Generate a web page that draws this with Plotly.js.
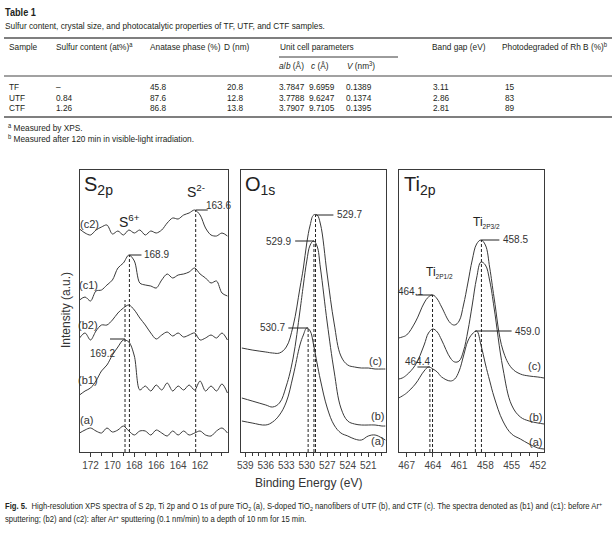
<!DOCTYPE html>
<html>
<head>
<meta charset="utf-8">
<script src="https://cdn.plot.ly/plotly-3.0.1.min.js"></script>
<style>
html,body{margin:0;padding:0;background:#fff;}
#wrap{position:relative;width:616px;height:543px;overflow:hidden;}
#chart{position:absolute;left:0;top:0;width:616px;height:543px;}
#overlay{position:absolute;left:0;top:0;width:616px;height:543px;pointer-events:none;}
.t{position:absolute;white-space:nowrap;font-family:"Liberation Sans",Arial,sans-serif;font-size:9.5px;color:#231f20;line-height:1.1;transform-origin:0 50%;}
.t sup{font-size:70%;vertical-align:baseline;position:relative;top:-0.45em;}
.t sub{font-size:70%;vertical-align:baseline;position:relative;top:0.3em;}
.cap{font-size:8.8px;}
</style>
</head>
<body>
<div id="wrap">
<div id="chart"></div>
<div id="overlay"></div>
</div>
<script>
// ---------------- Table data ----------------
const tableTitle = 'Table 1';
const tableSubtitle = 'Sulfur content, crystal size, and photocatalytic properties of TF, UTF, and CTF samples.';
const tableHeaders = ['Sample','Sulfur content (at%)<sup>a</sup>','Anatase phase (%)','D (nm)','Unit cell parameters','Band gap (eV)','Photodegraded of Rh B (%)<sup>b</sup>'];
const subHeaders = ['<i>a</i>/<i>b</i> (Å)','<i>c</i> (Å)','<i>V</i> (nm<sup>3</sup>)'];
const samples = ['TF','UTF','CTF'];
const sulfur = ['–','0.84','1.26'];
const anatase = ['45.8','87.6','86.8'];
const crystalD = ['20.8','12.8','13.8'];
const cellAB = ['3.7847','3.7788','3.7907'];
const cellC = ['9.6959','9.6247','9.7105'];
const cellV = ['0.1389','0.1374','0.1395'];
const bandGap = ['3.11','2.86','2.81'];
const photodeg = ['15','83','89'];
const footnotes = ['<sup>a</sup> Measured by XPS.','<sup>b</sup> Measured after 120 min in visible-light irradiation.'];
const captionLines = ['<b>Fig. 5.</b>&nbsp; High-resolution XPS spectra of S 2p, Ti 2p and O 1s of pure TiO<sub>2</sub> (a), S-doped TiO<sub>2</sub> nanofibers of UTF (b), and CTF (c). The spectra denoted as (b1) and (c1): before Ar<sup>+</sup>',
  'sputtering; (b2) and (c2): after Ar<sup>+</sup> sputtering (0.1 nm/min) to a depth of 10 nm for 15 min.'];

// ---------------- S 2p spectra ----------------
const s2pE = [173,172.5,172,171.5,171,170.5,170,169.5,169,168.5,168,167.5,167,166.5,166,165.5,165,164.5,164,163.5,163,162.5,162,161.5,161,160.5,160,159.5];
const s2pC2 = [223,219,217,222,225,227,218,221,217,222,219,222,217,221,219,222,229,234,233,237,239,242,237,224,217,216,219,216];
const s2pC1 = [152,155,151,161,162,167,172,184,189,197,191,169,167,166,164,172,178,174,177,178,180,184,178,174,169,171,159,156];
const s2pB2 = [114,119,112,121,127,127,132,139,144,147,142,134,127,119,113,117,120,116,119,115,117,119,112,114,117,114,119,112];
const s2pB1 = [57,61,64,71,81,87,97,105,112,110,96,62,66,61,67,62,69,61,66,62,67,62,71,61,66,61,68,59];
const s2pA  = [19,22,24,21,19,24,20,22,26,21,17,21,21,17,22,19,16,21,17,21,17,19,21,17,16,21,24,19];
const s2pTicks = [172,170,168,166,164,162];
const s2pNames = ['(c2)','(c1)','(b2)','(b1)','(a)'];
const s2pNameE = [172.1,172.2,172.2,172.25,172.35];
const s2pNameI = [228,167,127,72,32];
const s2pDashE = [168.85,168.45,162.4];
const s2pDashTop = [152,197,242];
const s2pPeakText = ['169.2','168.9','163.6'];
const s2pPeakLine = [[170.22,168.85,113],[168.45,167.35,197],[162.4,161.3,242]];
const s2pPeakTextPos = [[170.9,99],[167.3,198],[161.6,247]];
const s2pPeakAnchor = ['center','left','left'];

// ---------------- O 1s spectra ----------------
const o1sE = [539.5,538,536,535,534,533,532,531,530.5,530,529.5,529,528.5,528,527,526,525,524,523,522,521,520,519,518.5];
const o1sC = [104,102,100,99,99,105,126,164,184,209,227,237,237,228,177,129,96,87,85,84,84,83,83,83];
const o1sB = [54,51,47,45,49,66,94,141,167,191,207,211,206,184,129,81,44,31,28,27,27,27,26,26];
const o1sA = [31,29,27,30,37,50,76,107,117,124,121,107,89,72,44,27,19,16,13,12,16,17,14,12];
const o1sTicks = [539,536,533,530,527,524,521];
const o1sNames = ['(c)','(b)','(a)'];
const o1sNameE = [519.9,519.6,519.6];
const o1sNameI = [91,36,11];
const o1sDashE = [529.8,528.95,528.72];
const o1sDashTop = [124,211,237];
const o1sPeakText = ['530.7','529.9','529.7'];
const o1sPeakLine = [[532.7,529.8,124],[531.7,528.95,211],[528.72,526.1,237]];
const o1sPeakTextPos = [[532.96,125],[531.97,211],[525.9,238]];
const o1sPeakAnchor = ['right','right','left'];

// ---------------- Ti 2p spectra ----------------
const tiE = [467.9,467.5,467,466,465,464.5,464,463.5,463,462,461.5,461,460.5,460,459.5,459,458.5,458,457.5,457,456,455,454,453,452,451.3];
const tiC = [114,115,117,130,149,155,157,153,145,129,127,131,147,169,192,208,212,207,184,154,102,84,78,76,75,74];
const tiB = [73,74,77,87,107,119,123,120,112,94,90,91,101,121,147,174,190,187,171,144,84,47,35,31,29,28];
const tiA = [54,56,59,68,81,85,83,80,75,71,73,81,96,111,118,121,107,88,71,55,31,18,13,8,4,3];
const tiTicks = [467,464,461,458,455,452];
const tiNames = ['(c)','(b)','(a)'];
const tiNameE = [452.4,452.3,452.3];
const tiNameI = [86,35,10];
const tiDashE = [464.34,464.04,459.14,458.45];
const tiDashTop = [85,157,121,212];
const tiPeakText = ['464.4','464.1','459.0','458.5'];
const tiPeakLine = [[465.76,464.34,85],[465.95,464.04,157],[459.14,455.0,121],[458.45,456.4,212]];
const tiPeakTextPos = [[465.7,91],[466.5,161],[454.8,121],[456.2,213]];
const tiPeakAnchor = ['center','center','left','left'];

// ---------------- Layout helpers ----------------
const W = 616, H = 543;
const PX = x => x / W;
const PY = y => 1 - y / H;
const figFont = {family:'"Liberation Sans",Arial,sans-serif', size:10, color:'#333'};
const curveColor = '#3a3a3a';
const annotations = [];
const shapes = [];

function paperText(text, px, py, font, xanchor, extra) {
  annotations.push(Object.assign({text:text, xref:'paper', yref:'paper', x:PX(px), y:PY(py),
    xanchor:xanchor || 'left', yanchor:'middle', showarrow:false, font:font}, extra || {}));
}
function dataText(text, ax, x, y, font, xanchor) {
  annotations.push({text:text, xref:'x'+ax, yref:'y'+ax, x:x, y:y, xanchor:xanchor || 'center',
    yanchor:'middle', showarrow:false, font:font});
}
function paperLine(x0, y0, x1, y1, w, c) {
  shapes.push({type:'line', xref:'paper', yref:'paper', x0:PX(x0), x1:PX(x1), y0:PY(y0), y1:PY(y1),
    line:{color:c || '#333', width:w}});
}

// ---------------- Table rules ----------------
paperLine(4, 38, 612, 38, 1.6, '#555');
paperLine(279, 57, 398, 57, 0.9, '#222');
paperLine(4, 76, 612, 76, 1.2, '#444');
paperLine(4, 117, 612, 117, 1.6, '#555');

// ---------------- Traces ----------------
const traces = [];
function addCurves(xs, series, ax, smooth) {
  series.forEach(ys => traces.push({type:'scatter', mode:'lines', x:xs, y:ys, xaxis:'x'+ax, yaxis:'y'+ax,
    line:{color:curveColor, width:1, shape:'spline', smoothing:smooth}, hoverinfo:'skip'}));
}
addCurves(s2pE, [s2pC2, s2pC1, s2pB2, s2pB1, s2pA], '', 0.9);
addCurves(o1sE, [o1sC, o1sB, o1sA], '2', 1.1);
addCurves(tiE, [tiC, tiB, tiA], '3', 1.1);

function panelMarks(ax, dashE, dashTop, peakLine, peakText, peakPos, peakAnchor, names, nameE, nameI) {
  const xr = 'x' + ax, yr = 'y' + ax;
  dashE.forEach((e, i) => shapes.push({type:'line', xref:xr, yref:yr, x0:e, x1:e, y0:0, y1:dashTop[i],
    line:{color:'#222', width:1, dash:'3px,2px'}}));
  peakLine.forEach(p => shapes.push({type:'line', xref:xr, yref:yr, x0:p[0], x1:p[1], y0:p[2], y1:p[2],
    line:{color:'#222', width:1}}));
  peakText.forEach((t, i) => dataText(t, ax, peakPos[i][0], peakPos[i][1], figFont, peakAnchor[i]));
  names.forEach((n, i) => dataText(n, ax, nameE[i], nameI[i], Object.assign({}, figFont, {size:11}), 'center'));
}
panelMarks('', s2pDashE, s2pDashTop, s2pPeakLine, s2pPeakText, s2pPeakTextPos, s2pPeakAnchor, s2pNames, s2pNameE, s2pNameI);
panelMarks('2', o1sDashE, o1sDashTop, o1sPeakLine, o1sPeakText, o1sPeakTextPos, o1sPeakAnchor, o1sNames, o1sNameE, o1sNameI);
panelMarks('3', tiDashE, tiDashTop, tiPeakLine, tiPeakText, tiPeakTextPos, tiPeakAnchor, tiNames, tiNameE, tiNameI);

// Panel titles and species labels
const bigFont = {family:'"Liberation Sans",Arial,sans-serif', size:20, color:'#222'};
const midFont = {family:'"Liberation Sans",Arial,sans-serif', size:14, color:'#222'};
const tiFont = {family:'"Liberation Sans",Arial,sans-serif', size:12, color:'#222'};
dataText('S<sub>2p</sub>', '', 172.8, 267, bigFont, 'left');
dataText('O<sub>1s</sub>', '2', 539.3, 267, bigFont, 'left');
dataText('Ti<sub>2p</sub>', '3', 467.5, 267, bigFont, 'left');
dataText('S<sup>6+</sup>', '', 168.4, 231, midFont, 'center');
dataText('S<sup>2-</sup>', '', 162.4, 261, midFont, 'center');
dataText('Ti<sub><span style="font-size:6.5px">2P3/2</span></sub>', '3', 459.6, 230, tiFont, 'left');
dataText('Ti<sub><span style="font-size:6.5px">2P1/2</span></sub>', '3', 465.0, 180, tiFont, 'left');

// Axis titles
paperText('Intensity (a.u.)', 66, 310, Object.assign({}, figFont, {size:12}), 'center', {textangle:-90});
paperText('Binding Energy (eV)', 308, 483, Object.assign({}, figFont, {size:12}), 'center');

// ---------------- Axes ----------------
const yDom = [PY(452), PY(170)];
function xAxis(dom, range, ticks, anchor) {
  return {domain:dom, range:range, autorange:false, tickmode:'array', tickvals:ticks, ticktext:ticks.map(String), anchor:anchor,
    showline:true, mirror:true, linecolor:'#3a3a3a', linewidth:1, zeroline:false, showgrid:false,
    ticks:'outside', ticklen:4, tickwidth:1, tickcolor:'#3a3a3a',
    tickfont:{family:'"Liberation Sans",Arial,sans-serif', size:10, color:'#444'},
    minor:{ticks:'outside', ticklen:2.5, dtick:1, tick0:0, tickcolor:'#3a3a3a', showgrid:false}};
}
function yAxis(anchor) {
  return {domain:yDom, range:[0,282], autorange:false, anchor:anchor, showline:true, mirror:true,
    linecolor:'#3a3a3a', linewidth:1, zeroline:false, showgrid:false, showticklabels:false, ticks:''};
}
const layout = {
  width:W, height:H, margin:{l:0, r:0, t:0, b:0}, paper_bgcolor:'#fff', plot_bgcolor:'#fff',
  showlegend:false,
  xaxis: xAxis([PX(80), PX(228)], [172.96, 159.45], s2pTicks, 'y'),
  xaxis2: xAxis([PX(241), PX(386)], [539.63, 518.4], o1sTicks, 'y2'),
  xaxis3: xAxis([PX(399), PX(544)], [467.87, 451.3], tiTicks, 'y3'),
  yaxis: yAxis('x'), yaxis2: yAxis('x2'), yaxis3: yAxis('x3'),
  annotations: annotations, shapes: shapes
};
Plotly.newPlot('chart', traces, layout, {displayModeBar:false, staticPlot:true});

// ---------------- HTML text for table & caption (condensed) ----------------
const overlay = document.getElementById('overlay');
const textEls = [];
function htmlText(html, x, y, cls) {
  const d = document.createElement('div');
  d.className = 't' + (cls ? ' ' + cls : '');
  d.innerHTML = html;
  d.style.left = x + 'px';
  d.style.top = y + 'px';
  overlay.appendChild(d);
  textEls.push(d);
  return d;
}
const titleEl = htmlText('<b>' + tableTitle + '</b>', 5, 13);
titleEl.style.fontSize = '10.5px';
const subEl = htmlText(tableSubtitle, 5, 26);
const headX = [9, 56, 150, 224, 280, 432, 502];
tableHeaders.forEach((h, i) => htmlText(h, headX[i], 47));
const subX = [279, 311, 347];
subHeaders.forEach((h, i) => htmlText(h, subX[i], 66));
const colX = [9, 56, 150, 227, 279, 309, 346, 433, 505];
const rowY = [87, 98, 108];
[samples, sulfur, anatase, crystalD, cellAB, cellC, cellV, bandGap, photodeg]
  .forEach((col, ci) => col.forEach((v, ri) => htmlText(v, colX[ci], rowY[ri])));
htmlText(footnotes[0], 8, 128);
htmlText(footnotes[1], 8, 139);
const tableScale = 320 / subEl.getBoundingClientRect().width;
textEls.forEach(el => { el.style.transform = 'translateY(-50%) scaleX(' + tableScale.toFixed(3) + ')'; });

const cap1 = htmlText(captionLines[0], 5, 507, 'cap');
const cap2 = htmlText(captionLines[1], 5, 520, 'cap');
const capScale = 597 / cap1.getBoundingClientRect().width;
[cap1, cap2].forEach(el => { el.style.transform = 'translateY(-50%) scaleX(' + capScale.toFixed(3) + ')'; });
</script>
</body>
</html>
